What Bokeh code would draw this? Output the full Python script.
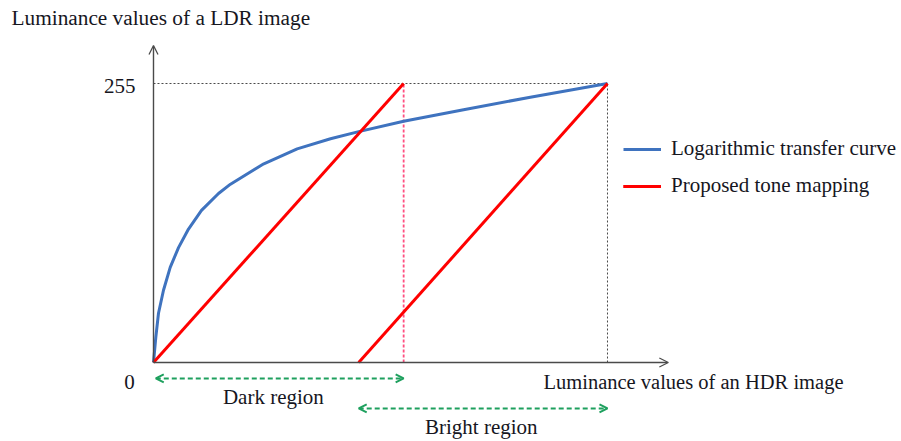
from bokeh.plotting import figure
from bokeh.models import Range1d, Arrow, OpenHead, Label, Legend, LegendItem
from bokeh.embed import file_html
from bokeh.resources import INLINE

# ---- data (HDR luminance normalised 0..100, LDR luminance 0..255) ----
hdr_log = [0, 0.51, 1.10, 2.20, 3.68, 5.51, 7.71, 10.57, 14.32, 16.96,
           24.3, 31.65, 38.99, 45.2, 55.1, 68.3, 83.0, 100]
ldr_log = [0, 23, 45, 66, 87, 105, 122, 139, 154.5, 163,
           181.6, 195.3, 204.5, 211, 220.5, 231, 242.5, 255]

dark_x = [0, 55.1]
dark_y = [0, 255]
bright_x = [45.2, 100]
bright_y = [0, 255]

hdr_max = 100
ldr_max = 255
x_axis_end = 113.4
y_axis_end = 289.7

tick_zero = "0"
tick_max = "255"
y_title = "Luminance values of a LDR image"
x_title = "Luminance values of an HDR image"
series_names = ["Logarithmic transfer curve", "Proposed tone mapping"]
region_names = ["Dark region", "Bright region"]

FONT = "Liberation Serif"
TXT = "#16161e"
AX = "#4a4a4a"
BLUE = "#3f73bf"
RED = "#ff0000"
GREEN = "#1ea05e"
PINK = "#ff4f80"

p = figure(width=901, height=441,
           x_range=Range1d(-33.70, 164.76), y_range=Range1d(-72.20, 330.86),
           x_axis_type=None, y_axis_type=None,
           output_backend="svg", toolbar_location=None, min_border=0)
p.outline_line_color = None
p.background_fill_color = "white"

# guide lines
p.line([0, hdr_max], [ldr_max, ldr_max], line_color=AX, line_width=1, line_dash="2 2")
p.line([hdr_max, hdr_max], [0, ldr_max], line_color=AX, line_width=1, line_dash="2 2")
p.line([dark_x[1], dark_x[1]], [0, ldr_max], line_color=PINK, line_width=1.8, line_dash="3 2")

# axes with arrows
p.add_layout(Arrow(end=OpenHead(size=9, line_color=AX, line_width=1.3),
                   x_start=0, y_start=0, x_end=x_axis_end, y_end=0,
                   line_color=AX, line_width=1.4))
p.add_layout(Arrow(end=OpenHead(size=9, line_color=AX, line_width=1.3),
                   x_start=0, y_start=0, x_end=0, y_end=y_axis_end,
                   line_color=AX, line_width=1.4))

# curves
blue = p.line(hdr_log, ldr_log, line_color=BLUE, line_width=3, line_join="round")
red1 = p.line(dark_x, dark_y, line_color=RED, line_width=3)
red2 = p.line(bright_x, bright_y, line_color=RED, line_width=3)

# region arrows
p.add_layout(Arrow(start=OpenHead(size=8, line_color=GREEN, line_width=2),
                   end=OpenHead(size=8, line_color=GREEN, line_width=2),
                   x_start=0.5, y_start=-14.6, x_end=dark_x[1], y_end=-14.6,
                   line_color=GREEN, line_width=2, line_dash="5 3"))
p.add_layout(Arrow(start=OpenHead(size=8, line_color=GREEN, line_width=2),
                   end=OpenHead(size=8, line_color=GREEN, line_width=2),
                   x_start=bright_x[0], y_start=-42.0, x_end=hdr_max, y_end=-42.0,
                   line_color=GREEN, line_width=2, line_dash="5 3"))

def lab(x, y, t, align="left", base="middle", size="21px"):
    p.add_layout(Label(x=x, y=y, text=t, text_font=FONT, text_font_size=size,
                       text_color=TXT, text_align=align, text_baseline=base))

lab(-31.28, 314.5, y_title, size="21.3px")
lab(-3.96, 252.9, tick_max, align="right")
lab(-5.29, -17.4, tick_zero, align="center")
lab(85.9, -17.8, x_title, size="20.5px")
lab(26.4, -31.1, region_names[0], align="center")
lab(72.2, -58.7, region_names[1], align="center")

legend = Legend(items=[LegendItem(label=series_names[0], renderers=[blue]),
                       LegendItem(label=series_names[1], renderers=[red1, red2])],
                location=(623, 243), orientation="vertical",
                glyph_width=38, glyph_height=24, label_height=24, spacing=12,
                label_standoff=10, padding=0, margin=0,
                border_line_color=None, background_fill_alpha=0,
                label_text_font=FONT, label_text_font_size="21px",
                label_text_color=TXT)
p.add_layout(legend)

open("out.html", "w").write(file_html(p, INLINE))
